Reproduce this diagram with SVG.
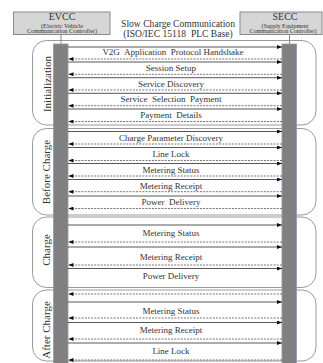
<svg xmlns="http://www.w3.org/2000/svg" width="323" height="363" viewBox="0 0 323 363">
<defs>
<marker id="ah" markerUnits="userSpaceOnUse" markerWidth="5" markerHeight="4" refX="5" refY="2" orient="auto"><path d="M0,0 L5,2 L0,4 z" fill="#111"/></marker>
<style>
text{font-family:"Liberation Serif","Times New Roman",serif;fill:#333}
.hb{fill:#d6d6d6;stroke:#8a8a8a;stroke-width:1}
.ph{fill:none;stroke:#9a9a9a;stroke-width:1}
.bar{fill:#808080;stroke:#8c9ab0;stroke-width:0.8}
.req{stroke:#444;stroke-width:0.9;marker-end:url(#ah)}
.res{stroke:#666;stroke-width:0.9;stroke-dasharray:2,1.2;marker-end:url(#ah)}
.lbl{font-size:9px;text-anchor:middle;white-space:pre}
.phl{font-size:11px;text-anchor:middle}
.tie{stroke:#888;stroke-width:1}
</style>
</defs>
<rect width="323" height="363" fill="#fff"/>
<g id="phases">
<rect id="ph-init" class="ph" x="32.5" y="40.5" width="283.5" height="84.5" rx="14"/>
<rect id="ph-before" class="ph" x="32.5" y="128.5" width="283.5" height="86.5" rx="14"/>
<rect id="ph-charge" class="ph" x="32.5" y="217" width="283.5" height="70.5" rx="14"/>
<rect id="ph-after" class="ph" x="32.5" y="290" width="283.5" height="71" rx="14"/>
<text class="phl" transform="translate(51,84) rotate(-90)">Initialization</text>
<text class="phl" transform="translate(50,172) rotate(-90)">Before Charge</text>
<text class="phl" transform="translate(49.5,250) rotate(-90)">Charge</text>
<text class="phl" transform="translate(49.5,330) rotate(-90)">After Charge</text>
</g>
<g id="EVCC">
<rect class="hb" x="13.5" y="12" width="96.5" height="22.5"/>
<text x="62" y="19.5" font-size="10" text-anchor="middle">EVCC</text>
<text x="62" y="27.5" font-size="6.3" text-anchor="middle">(Electric Vehicle</text>
<text x="62" y="33.3" font-size="6.3" text-anchor="middle">Communication Controller)</text>
<line class="tie" x1="61" y1="34.5" x2="61" y2="44"/>
<rect class="bar" x="53.5" y="44" width="14.5" height="320"/>
</g>
<g id="SECC">
<rect class="hb" x="240" y="12" width="82" height="22.5"/>
<text x="285" y="19.5" font-size="10" text-anchor="middle">SECC</text>
<text x="285" y="27.5" font-size="6" text-anchor="middle">(Supply Equipment</text>
<text x="283" y="33.3" font-size="6" text-anchor="middle">Communication Controller)</text>
<line class="tie" x1="289.5" y1="34.5" x2="289.5" y2="44"/>
<rect class="bar" x="282" y="44" width="14.5" height="320"/>
</g>
<g id="title">
<text x="178" y="26.5" font-size="9.6" text-anchor="middle">Slow Charge Communication</text>
<text x="178" y="36.5" font-size="9.6" text-anchor="middle" style="white-space:pre">(ISO/IEC 15118  PLC Base)</text>
</g>
<g id="connectors">
<line class="req" x1="68" y1="47" x2="282" y2="47"/><line class="res" x1="282" y1="59" x2="68.5" y2="59"/>
<line class="req" x1="68" y1="62" x2="282" y2="62"/><line class="res" x1="282" y1="74.3" x2="68.5" y2="74.3"/>
<line class="req" x1="68" y1="77.7" x2="282" y2="77.7"/><line class="res" x1="282" y1="90" x2="68.5" y2="90"/>
<line class="req" x1="68" y1="93.3" x2="282" y2="93.3"/><line class="res" x1="282" y1="105.7" x2="68.5" y2="105.7"/>
<line class="req" x1="68" y1="109" x2="282" y2="109"/><line class="res" x1="282" y1="121.5" x2="68.5" y2="121.5"/>
<line class="req" x1="68" y1="131.5" x2="282" y2="131.5"/><line class="res" x1="282" y1="144" x2="68.5" y2="144"/>
<line class="req" x1="68" y1="147.5" x2="282" y2="147.5"/><line class="res" x1="282" y1="160.5" x2="68.5" y2="160.5"/>
<line class="req" x1="68" y1="163.5" x2="282" y2="163.5"/><line class="res" x1="282" y1="176" x2="68.5" y2="176"/>
<line class="req" x1="68" y1="179.5" x2="282" y2="179.5"/><line class="res" x1="282" y1="191.7" x2="68.5" y2="191.7"/>
<line class="req" x1="68" y1="196" x2="282" y2="196"/><line class="res" x1="282" y1="208.5" x2="68.5" y2="208.5"/>
<line class="req" x1="68" y1="225" x2="282" y2="225"/><line class="res" x1="282" y1="242" x2="68.5" y2="242"/>
<line class="req" x1="68" y1="247" x2="282" y2="247"/><line class="res" x1="282" y1="265" x2="68.5" y2="265"/>
<line class="req" x1="68" y1="268.5" x2="282" y2="268.5"/><line class="res" x1="282" y1="294" x2="68.5" y2="294"/>
<line class="req" x1="68" y1="302" x2="282" y2="302"/><line class="res" x1="282" y1="318" x2="68.5" y2="318"/>
<line class="req" x1="68" y1="322.5" x2="282" y2="322.5"/><line class="res" x1="282" y1="339" x2="68.5" y2="339"/>
<line class="req" x1="68" y1="343" x2="282" y2="343"/><line class="res" x1="282" y1="360" x2="68.5" y2="360"/>
</g>
<g id="labels">
<text class="lbl" x="173" y="55">V2G  Application  Protocol Handshake</text>
<text class="lbl" x="171" y="71">Session Setup</text>
<text class="lbl" x="171" y="87">Service Discovery</text>
<text class="lbl" x="171" y="102">Service  Selection  Payment</text>
<text class="lbl" x="171" y="117.5">Payment  Details</text>
<text class="lbl" x="171" y="141">Charge Parameter Discovery</text>
<text class="lbl" x="171" y="157">Line Lock</text>
<text class="lbl" x="171" y="172.5">Metering Status</text>
<text class="lbl" x="171" y="188.5">Metering Receipt</text>
<text class="lbl" x="171" y="205">Power  Delivery</text>
<text class="lbl" x="171" y="236">Metering Status</text>
<text class="lbl" x="171" y="260">Metering Receipt</text>
<text class="lbl" x="171" y="279">Power Delivery</text>
<text class="lbl" x="171" y="314">Metering Status</text>
<text class="lbl" x="171" y="333">Metering Receipt</text>
<text class="lbl" x="171" y="354">Line Lock</text>
</g>
</svg>
